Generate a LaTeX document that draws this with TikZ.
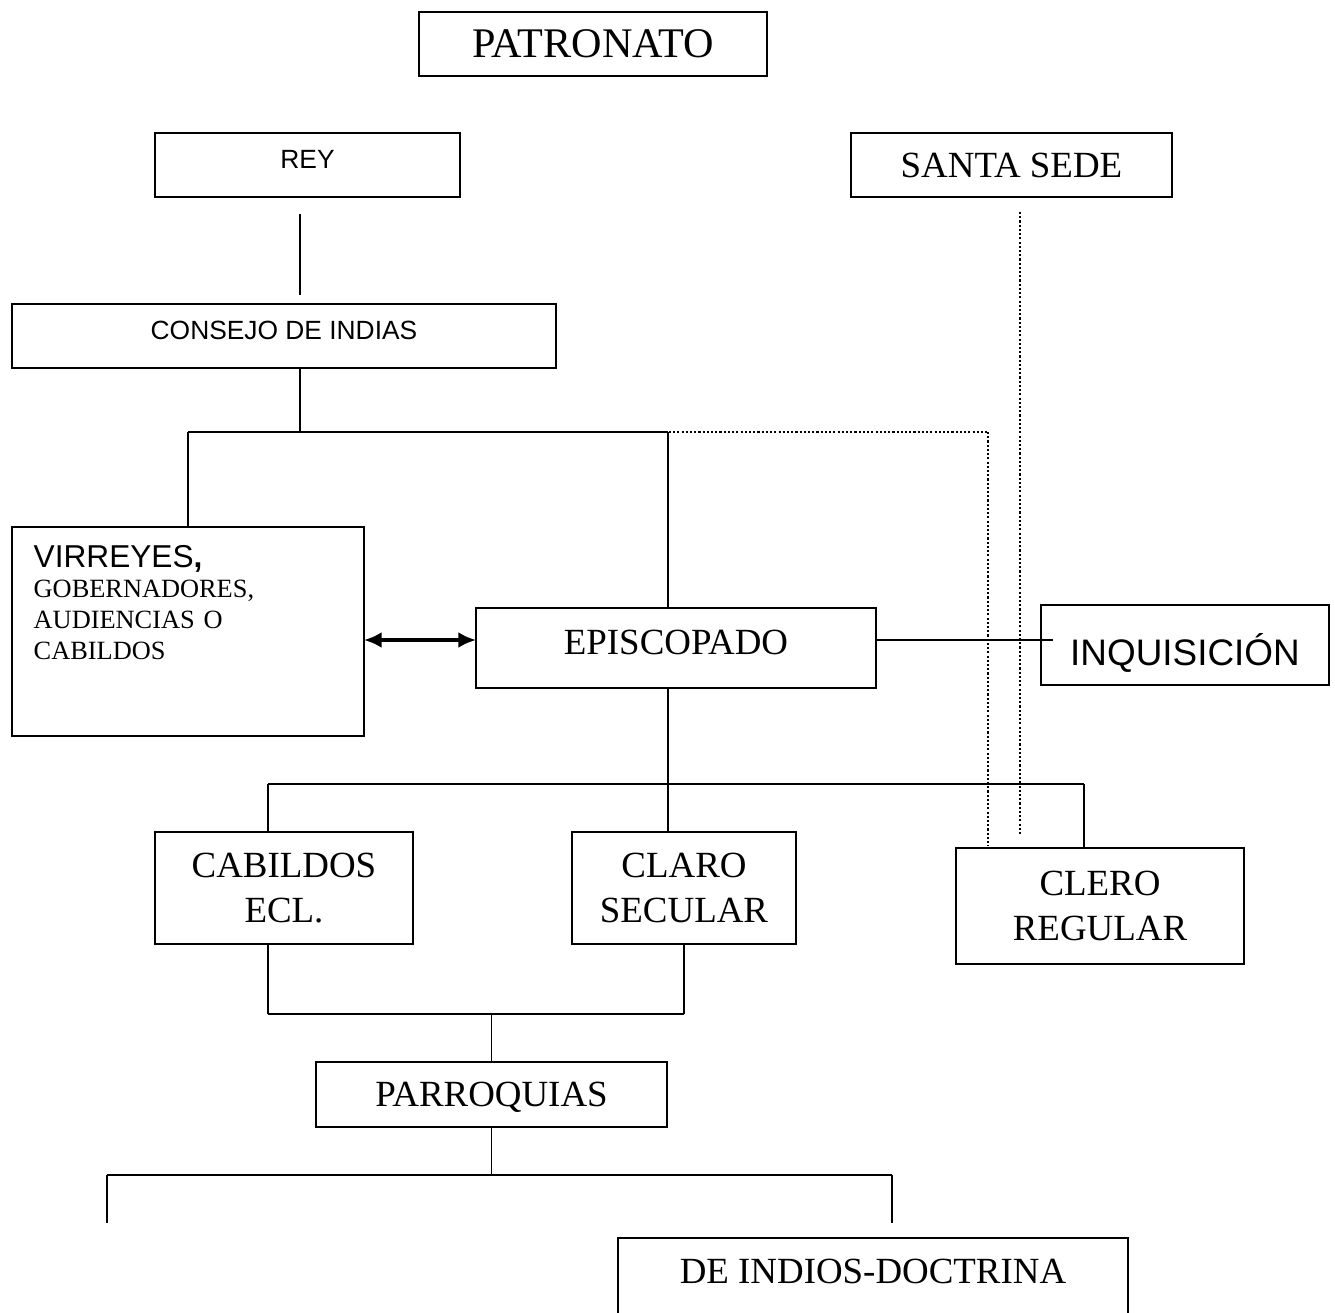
\documentclass[tikz,border=0pt]{standalone}
\usepackage{fontspec}
\setmainfont{Liberation Serif}
\setsansfont{Liberation Sans}
\usepackage{tikz}
\usetikzlibrary{arrows.meta}
\pgfdeclarelayer{nodelayer}
\pgfdeclarelayer{edgelayer}
\pgfsetlayers{edgelayer,nodelayer,main}
\tikzstyle{none}=[inner sep=-1pt]
\tikzset{rect/.style={draw, line width=0.6pt, inner sep=0pt, align=center,
font=\fontsize{10.5}{12.8}\selectfont}}
\tikzset{rectsans/.style={rect, font=\sffamily\fontsize{7.5}{9}\selectfont}}
\tikzset{link/.style={line width=0.55pt}}
\tikzset{dots/.style={line width=0.6pt, dash pattern=on 0.6pt off 0.6pt}}
\tikzset{twoway/.style={line width=0.9pt,
{Latex[length=5pt,width=4.5pt]}-{Latex[length=5pt,width=4.5pt]}}}

\begin{document}
\begin{tikzpicture}
	\useasboundingbox (0,0) rectangle (13.35,-13.13);
	\begin{pgfonlayer}{nodelayer}
		\node [style=rect, minimum width=3.48cm, minimum height=0.64cm, font=\fontsize{12}{14}\selectfont] (0) at (5.93, -0.44) {PATRONATO};
		\node [style=rectsans, minimum width=3.05cm, minimum height=0.64cm, text depth=0.12cm] (1) at (3.075, -1.65) {REY};
		\node [style=rect, minimum width=3.21cm, minimum height=0.64cm] (2) at (10.115, -1.65) {SANTA SEDE};
		\node [style=rectsans, minimum width=5.44cm, minimum height=0.64cm, text depth=0.12cm] (3) at (2.84, -3.36) {CONSEJO DE INDIAS};
		\node [style=rect, minimum width=3.52cm, minimum height=2.09cm] (4) at (1.88, -6.315) {};
		\node [anchor=base west, inner sep=0pt, text width=3.2cm, align=left, font=\fontsize{7.5}{8.8}\selectfont] (5) at (0.33, -5.67) {{\sffamily\fontsize{9}{8.8}\selectfont VIRREYES\textbf{,}}\\GOBERNADORES,\\AUDIENCIAS O\\CABILDOS};
		\node [style=rect, minimum width=4cm, minimum height=0.8cm, text depth=0.11cm] (6) at (6.76, -6.48) {EPISCOPADO};
		\node [style=rectsans, minimum width=2.88cm, minimum height=0.8cm, font=\sffamily\fontsize{10.5}{12}\selectfont, text height=0.4cm, text depth=0pt] (7) at (11.85, -6.45) {INQUISICIÓN};
		\node [style=rect, minimum width=2.58cm, minimum height=1.12cm] (8) at (2.84, -8.88) {CABILDOS\\ECL.};
		\node [style=rect, minimum width=2.24cm, minimum height=1.12cm] (9) at (6.84, -8.88) {CLARO\\SECULAR};
		\node [style=rect, minimum width=2.88cm, minimum height=1.16cm] (10) at (11, -9.06) {CLERO\\REGULAR};
		\node [style=rect, minimum width=3.51cm, minimum height=0.65cm, text depth=0pt] (11) at (4.915, -10.945) {PARROQUIAS};
		\node [style=rect, minimum width=5.1cm, minimum height=0.92cm, text depth=0.25cm] (12) at (8.73, -12.84) {DE INDIOS-DOCTRINA};
		\node [style=none] (13) at (3, -2.14) {};
		\node [style=none] (14) at (3, -2.95) {};
		\node [style=none] (15) at (3, -4.32) {};
		\node [style=none] (16) at (1.88, -4.32) {};
		\node [style=none] (17) at (6.68, -4.32) {};
		\node [style=none] (18) at (6.52, -4.32) {};
		\node [style=none] (19) at (9.88, -4.32) {};
		\node [style=none] (20) at (9.88, -8.46) {};
		\node [style=none] (21) at (10.2, -2.12) {};
		\node [style=none] (22) at (10.2, -8.36) {};
		\node [style=none] (23) at (10.53, -6.4) {};
		\node [style=none] (24) at (6.68, -7.84) {};
		\node [style=none] (25) at (2.68, -7.84) {};
		\node [style=none] (26) at (10.84, -7.84) {};
		\node [style=none] (27) at (2.68, -10.14) {};
		\node [style=none] (28) at (6.84, -10.14) {};
		\node [style=none] (29) at (4.915, -10.14) {};
		\node [style=none] (30) at (4.915, -11.75) {};
		\node [style=none] (31) at (1.07, -11.75) {};
		\node [style=none] (32) at (8.92, -11.75) {};
		\node [style=none] (33) at (1.07, -12.23) {};
		\node [style=none] (34) at (8.92, -12.23) {};
		\node [style=none] (35) at (3, -3.68) {};
		\node [style=none] (36) at (6.68, -6.08) {};
		\node [style=none] (37) at (6.68, -6.88) {};
		\node [style=none] (38) at (2.68, -8.32) {};
		\node [style=none] (39) at (6.68, -8.32) {};
		\node [style=none] (40) at (10.84, -8.48) {};
		\node [style=none] (41) at (2.68, -9.44) {};
		\node [style=none] (42) at (3.64, -6.4) {};
		\node [style=none] (43) at (4.76, -6.4) {};
		\node [style=none] (44) at (8.76, -6.4) {};
	\end{pgfonlayer}
	\begin{pgfonlayer}{edgelayer}
		\draw [style=link] (13.center) to (14.center);
		\draw [style=link] (35.center) to (15.center);
		\draw [style=link] (16.center) to (17.center);
		\draw [style=link] (16.center) to (4.north);
		\draw [style=link] (17.center) to (36.center);
		\draw [style=dots] (18.center) to (19.center);
		\draw [style=dots] (19.center) to (20.center);
		\draw [style=dots] (21.center) to (22.center);
		\draw [style=twoway] (42.center) to (43.center);
		\draw [style=link] (44.center) to (23.center);
		\draw [style=link] (37.center) to (39.center);
		\draw [style=link] (25.center) to (26.center);
		\draw [style=link] (25.center) to (38.center);
		\draw [style=link] (26.center) to (40.center);
		\draw [style=link] (41.center) to (27.center);
		\draw [style=link] (27.center) to (28.center);
		\draw [style=link] (9.south) to (28.center);
		\draw [style=link] (29.center) to (11.north);
		\draw [style=link] (11.south) to (30.center);
		\draw [style=link] (31.center) to (32.center);
		\draw [style=link] (31.center) to (33.center);
		\draw [style=link] (32.center) to (34.center);
	\end{pgfonlayer}
\end{tikzpicture}
\end{document}
